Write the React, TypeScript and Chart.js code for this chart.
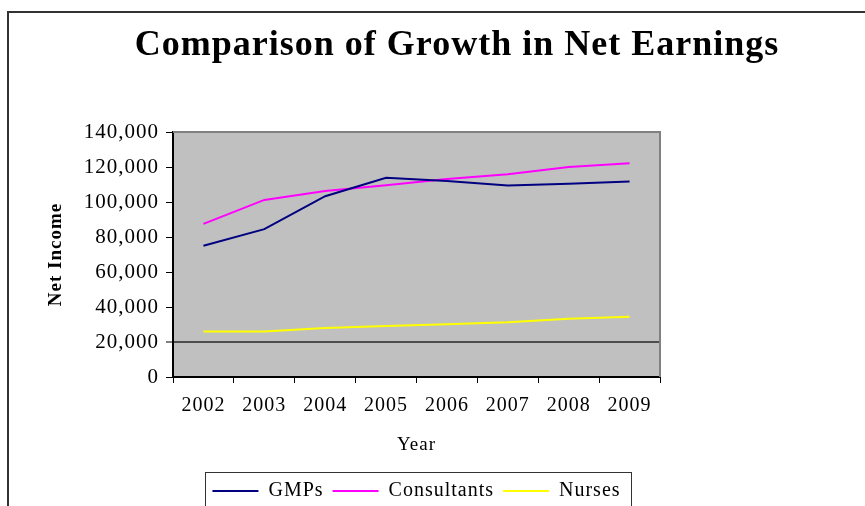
import React, { useEffect, useRef } from "react";
import { Chart, registerables } from "chart.js";

Chart.register(...registerables);

const years = ["2002", "2003", "2004", "2005", "2006", "2007", "2008", "2009"];
const gmps = [75000, 84500, 103300, 113800, 112000, 109500, 110400, 111700];
const consultants = [87500, 101200, 106300, 109600, 113200, 115800, 120000, 122100];
const nurses = [26000, 26000, 28000, 29200, 30200, 31300, 33300, 34400];

const titleText = "Comparison of Growth in Net Earnings";
const yTitle = "Net Income";
const xTitle = "Year";

const FONT = "'Liberation Serif', 'Times New Roman', serif";
const SPACING = "1px";

const framePlugin = {
  id: "frameDeco",
  beforeLayout(chart: any) {
    chart.ctx.letterSpacing = SPACING;
  },
  beforeDraw(chart: any) {
    const ctx = chart.ctx;
    ctx.letterSpacing = SPACING;
    const { left, top, right, bottom } = chart.chartArea;
    ctx.save();
    ctx.fillStyle = "#C0C0C0";
    ctx.fillRect(left, top, right - left, bottom - top);
    ctx.restore();
  },
  afterDraw(chart: any) {
    const ctx = chart.ctx;
    const { left, top, right, bottom } = chart.chartArea;
    ctx.save();
    ctx.strokeStyle = "#808080";
    ctx.lineWidth = 2;
    ctx.beginPath();
    ctx.moveTo(left, top);
    ctx.lineTo(right, top);
    ctx.lineTo(right, bottom);
    ctx.stroke();
    const lg = chart.legend;
    const hb = lg && lg.legendHitBoxes;
    if (hb && hb.length) {
      const first = hb[0];
      const last = hb[hb.length - 1];
      const bx = Math.round(first.left - 7) + 0.5;
      const bx2 = Math.round(last.left + last.width + 10) + 0.5;
      const by = Math.round(lg.top) + 0.5;
      ctx.strokeStyle = "#333";
      ctx.lineWidth = 1;
      ctx.strokeRect(bx, by, bx2 - bx, lg.bottom - by + 40);
    }
    ctx.restore();
  },
};

export default function App() {
  const ref = useRef<HTMLCanvasElement | null>(null);

  useEffect(() => {
    if (!ref.current) return;
    const chart = new Chart(ref.current, {
      type: "line",
      data: {
        labels: years,
        datasets: [
          { label: "GMPs", data: gmps, borderColor: "#000080", backgroundColor: "#000080", borderWidth: 2, pointRadius: 0, tension: 0 },
          { label: "Consultants", data: consultants, borderColor: "#FF00FF", backgroundColor: "#FF00FF", borderWidth: 2, pointRadius: 0, tension: 0 },
          { label: "Nurses", data: nurses, borderColor: "#FFFF00", backgroundColor: "#FFFF00", borderWidth: 2, pointRadius: 0, tension: 0 },
        ],
      },
      options: {
        responsive: false,
        animation: false,
        devicePixelRatio: 1,
        color: "#000",
        layout: { padding: 0 },
        plugins: {
          tooltip: { enabled: false },
          title: {
            display: true,
            text: titleText,
            color: "#000",
            font: { family: FONT, size: 36, weight: "bold" },
            padding: { top: 11.2, bottom: 64.6 },
          },
          legend: {
            display: true,
            position: "bottom",
            fullSize: false,
            align: "center",
            labels: {
              color: "#000",
              font: { family: FONT, size: 20 },
              boxWidth: 46,
              boxHeight: 2,
              padding: 9,
              generateLabels: (c: any) => {
                const items = Chart.defaults.plugins.legend.labels.generateLabels(c);
                return items.map((it: any) => ({ ...it, fillStyle: it.strokeStyle, lineWidth: 0 }));
              },
            },
          },
        },
        scales: {
          x: {
            type: "category",
            offset: true,
            grid: {
              offset: true,
              display: true,
              drawOnChartArea: true,
              color: "rgba(0,0,0,0)",
              tickColor: "#000",
              tickLength: 6,
              tickWidth: 1,
            },
            border: { display: true, color: "#000", width: 2 },
            ticks: {
              color: "#000",
              font: { family: FONT, size: 20 },
              padding: 11,
              maxRotation: 0,
              autoSkip: false,
            },
            title: {
              display: true,
              text: xTitle,
              color: "#000",
              font: { family: FONT, size: 19 },
              padding: { top: 4.6, bottom: 15.6 },
            },
          },
          y: {
            type: "linear",
            position: "left",
            min: 0,
            max: 140000,
            grid: {
              display: true,
              drawOnChartArea: true,
              color: (ctx: any) => (ctx.tick && ctx.tick.value === 20000 ? "#4d4d4d" : "rgba(0,0,0,0)"),
              lineWidth: (ctx: any) => (ctx.tick && ctx.tick.value === 20000 ? 2 : 1),
              tickColor: "#000",
              tickLength: 7,
              tickWidth: 1,
            },
            border: { display: true, color: "#000", width: 2 },
            ticks: {
              stepSize: 20000,
              color: "#000",
              font: { family: FONT, size: 21 },
              padding: 7,
              callback: (v: any) => Number(v).toLocaleString("en-US"),
            },
            title: {
              display: true,
              text: yTitle,
              color: "#000",
              font: { family: FONT, size: 19, weight: "bold" },
              padding: { top: 35.6, bottom: 0 },
            },
            afterFit: (s: any) => {
              s.width = 164;
            },
          },
          y2: {
            type: "linear",
            position: "right",
            display: true,
            grid: { display: false, drawOnChartArea: false },
            border: { display: false },
            ticks: { display: false },
            afterFit: (s: any) => {
              s.width = 245;
            },
          },
        },
      },
      plugins: [framePlugin],
    } as any);
    return () => chart.destroy();
  }, []);

  return (
    <div style={{ position: "fixed", left: 0, top: 0, width: 865, height: 506, overflow: "hidden", background: "#fff" }}>
      <div
        style={{
          position: "absolute",
          left: 7,
          top: 11,
          width: 920,
          height: 560,
          borderLeft: "2px solid #333",
          borderTop: "2px solid #333",
        }}
      >
        <canvas ref={ref} width={896} height={498} style={{ display: "block" }} />
      </div>
    </div>
  );
}
